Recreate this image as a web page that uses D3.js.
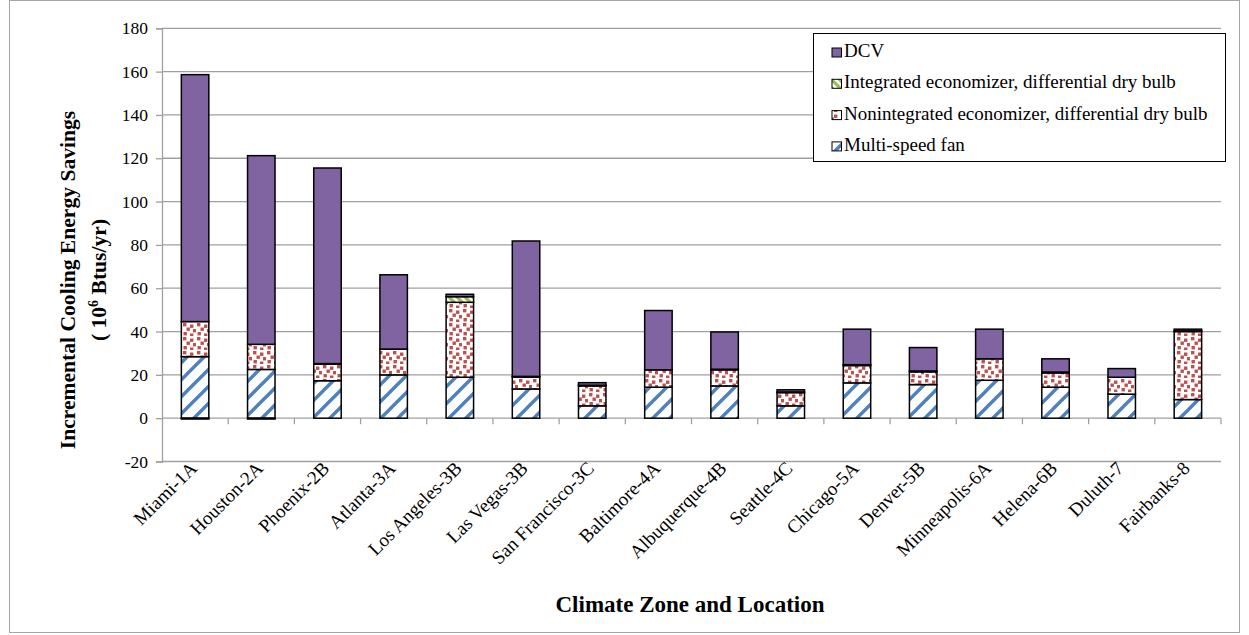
<!DOCTYPE html>
<html>
<head>
<meta charset="utf-8">
<script src="https://cdn.jsdelivr.net/npm/d3@7"></script>
<style>
  html, body { margin: 0; padding: 0; background: #fff; }
  svg { display: block; }
  svg text { font-family: 'Liberation Serif', 'Times New Roman', serif; }
</style>
</head>
<body>
<svg id="chart" width="1249" height="635"></svg>
<script>
// Climate zones / locations along the x axis
const categories = ["Miami-1A", "Houston-2A", "Phoenix-2B", "Atlanta-3A", "Los Angeles-3B", "Las Vegas-3B",
  "San Francisco-3C", "Baltimore-4A", "Albuquerque-4B", "Seattle-4C", "Chicago-5A", "Denver-5B",
  "Minneapolis-6A", "Helena-6B", "Duluth-7", "Fairbanks-8"];

// Incremental cooling energy savings per measure (10^6 Btus/yr), stacked bottom to top
const multiSpeedFan = [28.4, 22.5, 17.3, 20.0, 18.9, 13.5, 5.7, 14.3, 14.9, 5.7, 16.3, 15.5, 17.5, 14.3, 11.1, 8.6];
const nonintegratedEconomizer = [16.2, 11.6, 7.6, 11.9, 34.6, 5.5, 9.2, 8.0, 7.4, 6.1, 8.0, 5.9, 9.9, 6.6, 7.8, 31.4];
const integratedEconomizer = [-0.4, -0.4, 0.3, 0.0, 2.6, 0.3, 0.3, 0.0, 0.3, 0.3, 0.4, 0.4, 0.0, 0.4, 0.0, 0.3];
const dcv = [114.0, 87.1, 90.3, 34.3, 1.1, 62.5, 1.2, 27.4, 17.2, 1.0, 16.4, 10.8, 13.7, 6.1, 4.0, 0.8];

// Series names, bottom of the stack first
const seriesNames = ["Multi-speed fan", "Nonintegrated economizer, differential dry bulb",
  "Integrated economizer, differential dry bulb", "DCV"];

// Y axis ticks
const yTicks = [-20, 0, 20, 40, 60, 80, 100, 120, 140, 160, 180];

const FONT = "'Liberation Serif', 'Times New Roman', serif";
const seriesKeys = ["fan", "nonint", "integ", "dcv"];
const rows = categories.map((c, i) => ({
  category: c,
  fan: multiSpeedFan[i],
  nonint: nonintegratedEconomizer[i],
  integ: integratedEconomizer[i],
  dcv: dcv[i]
}));

const svg = d3.select("#chart");
const defs = svg.append("defs");

// Fill patterns
// Multi-speed fan: blue wide upward diagonal
const P = 17;
const pFan = defs.append("pattern").attr("id", "pat-fan")
  .attr("patternUnits", "userSpaceOnUse").attr("width", P).attr("height", P);
pFan.append("rect").attr("width", P).attr("height", P).attr("fill", "#fff");
pFan.append("path")
  .attr("d", `M0,${P} L${P},0 M-3,3 L3,-3 M${P - 3},${P + 3} L${P + 3},${P - 3}`)
  .attr("stroke", "#4F81BD").attr("stroke-width", 3.4).attr("fill", "none");

// Nonintegrated economizer: red confetti squares
const pNon = defs.append("pattern").attr("id", "pat-nonint")
  .attr("patternUnits", "userSpaceOnUse").attr("width", 14).attr("height", 14);
pNon.append("rect").attr("width", 14).attr("height", 14).attr("fill", "#fff");
[[1, 1], [8, 2.5], [4.5, 5.5], [11, 7], [1.5, 10], [8, 11.5]].forEach(([px, py]) => {
  pNon.append("rect").attr("x", px).attr("y", py).attr("width", 3.4).attr("height", 3.4).attr("fill", "#C0504D");
});

// Integrated economizer: green diagonal
const pInt = defs.append("pattern").attr("id", "pat-integ")
  .attr("patternUnits", "userSpaceOnUse").attr("width", 8).attr("height", 8);
pInt.append("rect").attr("width", 8).attr("height", 8).attr("fill", "#fff");
pInt.append("path").attr("d", "M0,0 L8,8 M-2,6 L2,10 M6,-2 L10,2")
  .attr("stroke", "#9BBB59").attr("stroke-width", 3.2);

const fills = {
  fan: "url(#pat-fan)",
  nonint: "url(#pat-nonint)",
  integ: "url(#pat-integ)",
  dcv: "#8064A2"
};

// Chart area frame
svg.append("rect").attr("x", 9.5).attr("y", 0.5).attr("width", 1230).attr("height", 632)
  .attr("fill", "none").attr("stroke", "#a6a6a6").attr("stroke-width", 1);

// Plot geometry
const plotLeft = 162, plotRight = 1221, plotTop = 28.3, plotBottom = 461.5;

const x = d3.scaleBand().domain(categories).range([plotLeft, plotRight])
  .paddingInner(0.585).paddingOuter(0.2925);
const xCat = d3.scaleBand().domain(categories).range([plotLeft, plotRight]).padding(0);
const y = d3.scaleLinear().domain([-20, 180]).range([plotBottom, plotTop]);

// Horizontal gridlines
svg.append("g").selectAll("line").data(yTicks).join("line")
  .attr("x1", plotLeft).attr("x2", plotRight)
  .attr("y1", d => y(d)).attr("y2", d => y(d))
  .attr("stroke", "#a0a0a0").attr("stroke-width", 1.3);

// Y axis
const yAxis = svg.append("g").attr("transform", `translate(${plotLeft},0)`)
  .call(d3.axisLeft(y).tickValues(yTicks).tickSize(6).tickPadding(8).tickFormat(d3.format("d")));
yAxis.attr("font-family", FONT).attr("font-size", 17.5);
yAxis.select(".domain").attr("stroke", "#a0a0a0").attr("stroke-width", 1.3);
yAxis.selectAll(".tick line").attr("stroke", "#a0a0a0").attr("stroke-width", 1.3);
yAxis.selectAll(".tick text").attr("fill", "#000").attr("font-size", 17.5)
  .attr("font-family", FONT)
  .text(d => d < 0 ? "-" + Math.abs(d) : String(d));

// X axis at zero with ticks on category boundaries
const boundaries = categories.slice(1).map(c => xCat(c)).concat([plotRight]);
svg.append("g").selectAll("line").data(boundaries).join("line")
  .attr("x1", d => d).attr("x2", d => d)
  .attr("y1", y(0)).attr("y2", y(0) + 6)
  .attr("stroke", "#a0a0a0").attr("stroke-width", 1.3);

// Stacked bars
const stack = d3.stack().keys(seriesKeys).offset(d3.stackOffsetDiverging);
const layers = stack(rows);

svg.append("g").selectAll("g").data(layers).join("g")
  .attr("fill", d => fills[d.key])
  .selectAll("rect").data(d => d).join("rect")
  .attr("x", d => x(d.data.category))
  .attr("width", x.bandwidth())
  .attr("y", d => y(Math.max(d[0], d[1])))
  .attr("height", d => Math.abs(y(d[0]) - y(d[1])))
  .attr("stroke", "#000").attr("stroke-width", 1.5);

// Category labels, rotated
svg.append("g").selectAll("text").data(categories).join("text")
  .attr("transform", d => `translate(${xCat(d) + xCat.bandwidth() / 2 + 3},${plotBottom + 8}) rotate(-45)`)
  .attr("text-anchor", "end")
  .attr("font-family", FONT)
  .attr("font-size", 19)
  .attr("fill", "#000")
  .text(d => d);

// Axis titles
svg.append("text")
  .attr("x", 690).attr("y", 612)
  .attr("text-anchor", "middle")
  .attr("font-family", FONT)
  .attr("font-size", 23).attr("font-weight", "bold")
  .text("Climate Zone and Location");

const yTitle = svg.append("text")
  .attr("transform", "translate(75,280) rotate(-90)")
  .attr("text-anchor", "middle")
  .attr("font-family", FONT)
  .attr("font-size", 21.6).attr("font-weight", "bold");
yTitle.append("tspan").attr("x", 0).attr("y", 0).text("Incremental Cooling Energy Savings");
const line2 = yTitle.append("tspan").attr("x", 0).attr("y", 31);
line2.append("tspan").text("( 10");
line2.append("tspan").attr("dy", -8).attr("font-size", 14).text("6");
line2.append("tspan").attr("dy", 8).text(" Btus/yr)");

// Legend (top of stack listed first)
const legend = svg.append("g");
legend.append("rect").attr("x", 813.5).attr("y", 33.5).attr("width", 412).attr("height", 128)
  .attr("fill", "#fff").attr("stroke", "#000").attr("stroke-width", 1);
const legendKeys = seriesKeys.slice().reverse();
const legendNames = seriesNames.slice().reverse();
legendKeys.forEach((k, i) => {
  const yy = 52 + i * 31.3;
  legend.append("rect").attr("x", 832).attr("y", yy - 4).attr("width", 9.5).attr("height", 9)
    .attr("fill", fills[k]).attr("stroke", "#000").attr("stroke-width", 1);
  legend.append("text").attr("x", 844).attr("y", yy + 5)
    .attr("font-family", FONT)
    .attr("font-size", 19).attr("fill", "#000").text(legendNames[i]);
});
</script>
</body>
</html>
